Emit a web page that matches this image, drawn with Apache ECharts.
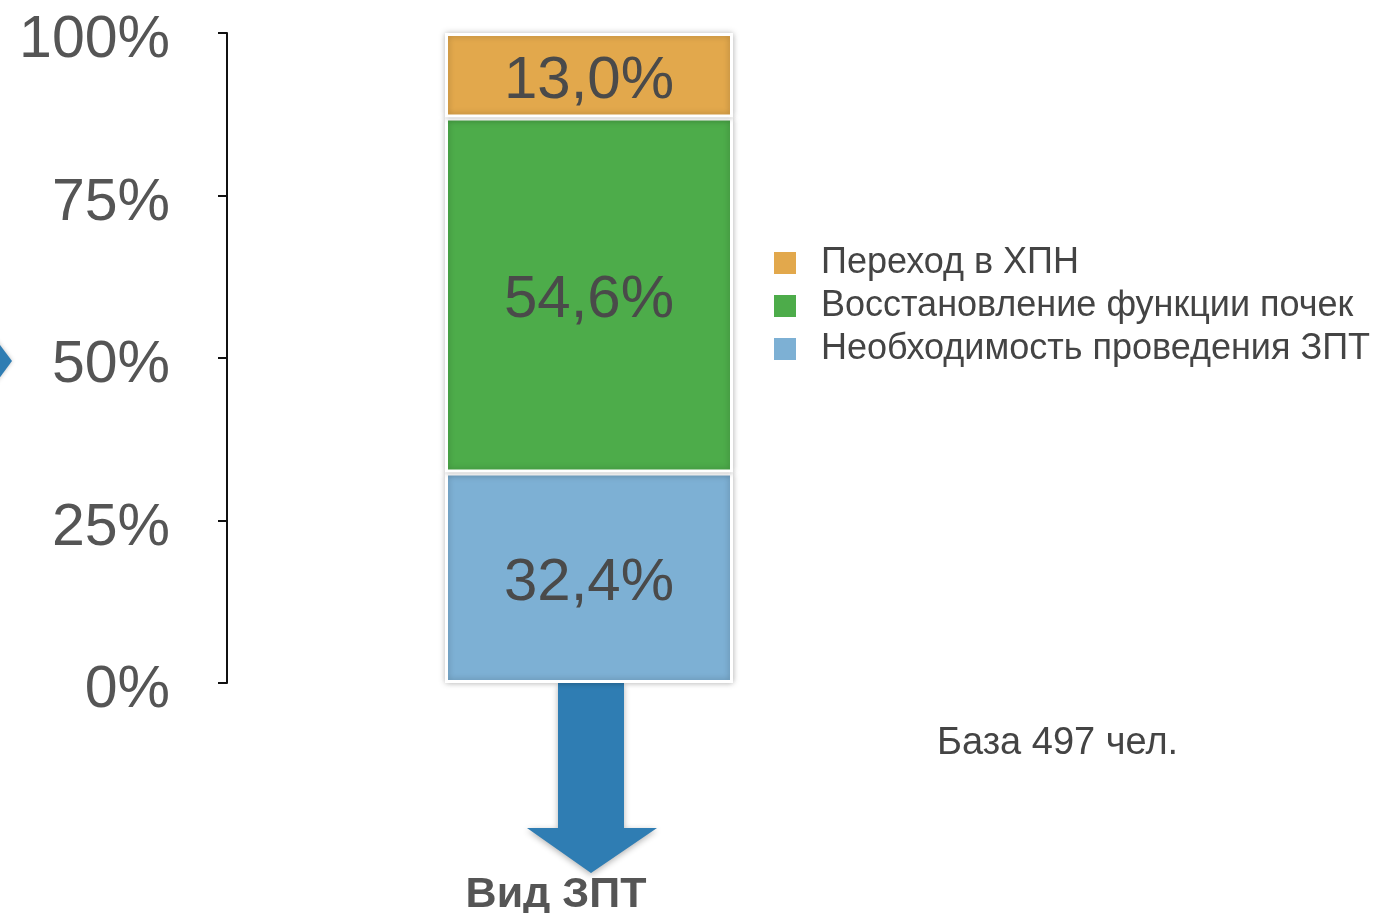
<!DOCTYPE html>
<html>
<head>
<meta charset="utf-8">
<script src="https://cdn.jsdelivr.net/npm/echarts@6/dist/echarts.min.js"></script>
<style>
    html, body { margin: 0; padding: 0; background: #fff; }
    #chart { width: 1378px; height: 913px; }
</style>
</head>
<body>
<div id="chart"></div>
<script>
    var categories = ['Вид ЗПТ'];
    var seriesNames = ['Необходимость проведения ЗПТ', 'Восстановление функции почек', 'Переход в ХПН'];
    var dialysisNeed = [32.4];
    var kidneyRecovery = [54.6];
    var ckdTransition = [13.0];
    var legendOrder = ['Переход в ХПН', 'Восстановление функции почек', 'Необходимость проведения ЗПТ'];
    var baseNote = 'База 497 чел.';

    var font = "'Liberation Sans', Arial, sans-serif";
    var colors = ['#7db0d4', '#4dac4a', '#e2a84c'];

    var chart = echarts.init(document.getElementById('chart'));

    // 13.0 -> "13,0%"
    function pctLabel(p) {
        return p.value.toFixed(1).replace('.', ',') + '%';
    }

    function barSeries(name, data, color) {
        return {
            name: name,
            type: 'bar',
            stack: 'total',
            barWidth: 288,
            data: data,
            itemStyle: {
                color: color,
                borderColor: '#fff',
                borderWidth: 3,
                shadowBlur: 6,
                shadowColor: 'rgba(0,0,0,0.25)'
            },
            label: {
                show: true,
                position: 'inside',
                offset: [0, 6],
                formatter: pctLabel,
                color: '#4a4a4a',
                fontSize: 60,
                fontFamily: font
            }
        };
    }

    var option = {
        animation: false,
        textStyle: { fontFamily: font },
        grid: {
            left: 227,
            right: 427,
            top: 33,
            bottom: 230,
            outerBoundsMode: 'none'
        },
        legend: {
            orient: 'vertical',
            left: 772,
            top: 245,
            padding: 0,
            icon: 'rect',
            itemWidth: 24,
            itemHeight: 24,
            itemGap: 7,
            data: legendOrder,
            textStyle: {
                color: '#444',
                fontSize: 36,
                lineHeight: 36,
                fontFamily: font,
                padding: [0, 0, 0, 19]
            }
        },
        xAxis: {
            type: 'category',
            data: categories,
            axisLine: { show: false },
            axisTick: { show: false },
            axisLabel: {
                margin: 191,
                color: '#555',
                fontSize: 43,
                fontWeight: 'bold',
                fontFamily: font,
                padding: [0, 66, 0, 0]
            }
        },
        yAxis: {
            type: 'value',
            min: 0,
            max: 100,
            interval: 25,
            splitLine: { show: false },
            axisLine: {
                show: true,
                lineStyle: { color: '#111', width: 2 }
            },
            axisTick: {
                show: true,
                length: 9,
                lineStyle: { color: '#111', width: 2 }
            },
            axisLabel: {
                margin: 57,
                formatter: '{value}%',
                color: '#555',
                fontSize: 59,
                fontFamily: font,
                verticalAlign: 'top',
                lineHeight: 16
            }
        },
        graphic: [
            {
                type: 'polygon',
                z: 1,
                shape: {
                    points: [[558, 683], [624, 683], [624, 828], [657, 828], [591, 873], [527, 828], [558, 828]]
                },
                style: {
                    fill: '#2f7db3',
                    shadowBlur: 6,
                    shadowColor: 'rgba(0,0,0,0.3)',
                    shadowOffsetY: 2
                }
            },
            {
                type: 'polygon',
                shape: {
                    points: [[-20, 318], [12, 361], [-20, 404]]
                },
                style: {
                    fill: '#2f7db3',
                    shadowBlur: 4,
                    shadowColor: 'rgba(0,0,0,0.25)'
                }
            },
            {
                type: 'text',
                left: 937,
                top: 725,
                style: {
                    text: baseNote,
                    fill: '#444',
                    fontSize: 38,
                    fontFamily: font
                }
            }
        ],
        series: [
            barSeries(seriesNames[0], dialysisNeed, colors[0]),
            barSeries(seriesNames[1], kidneyRecovery, colors[1]),
            barSeries(seriesNames[2], ckdTransition, colors[2])
        ]
    };

    chart.setOption(option);
</script>
</body>
</html>
